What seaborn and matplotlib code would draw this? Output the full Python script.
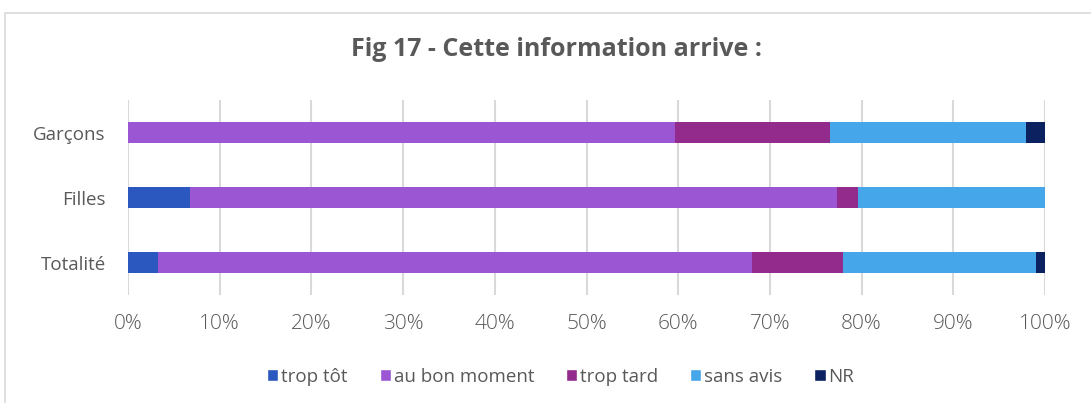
import matplotlib
import numpy as np
import pandas as pd
import seaborn as sns
import matplotlib.pyplot as plt
from matplotlib.patches import Patch, Rectangle

groups = ['Garçons', 'Filles', 'Totalité']
series = ['trop tôt', 'au bon moment', 'trop tard', 'sans avis', 'NR']
trop_tot = [0.0, 6.8, 3.3]
bon_moment = [59.6, 70.5, 64.8]
trop_tard = [17.0, 2.3, 9.9]
sans_avis = [21.3, 20.4, 21.0]
nr = [2.1, 0.0, 1.0]
colors = ['#2A58BE', '#9B57D3', '#922B8C', '#46A6EA', '#0B2160']

def build_data():
    df = pd.DataFrame({'group': groups, 'trop tôt': trop_tot, 'au bon moment': bon_moment,
                       'trop tard': trop_tard, 'sans avis': sans_avis, 'NR': nr})
    # cumulative sums so bars can be overdrawn from the longest to the shortest
    df[series] = df[series].cumsum(axis=1)
    return df

def plot_stacked(df):
    fig = plt.figure(figsize=(10.91, 4.03), dpi=100)
    fig.patches.append(Rectangle((5 / 1091, -0.1), 1.2, (403 - 13) / 403 + 0.1,
                                 transform=fig.transFigure, fill=False,
                                 edgecolor='#d9d9d9', linewidth=1.2))
    ax = fig.add_axes([128 / 1091, 108 / 403, 917 / 1091, 195 / 403])
    for name, color in reversed(list(zip(series, colors))):
        sns.barplot(data=df, y='group', x=name, orient='h', color=color,
                    width=0.33, ax=ax, saturation=1, linewidth=0)
    ax.set_xlim(0, 100)
    ax.set_ylim(2.5, -0.5)
    ax.set_xticks(np.arange(0, 101, 10))
    ax.set_xticklabels([f'{v}%' for v in range(0, 101, 10)], fontweight='light')
    ax.grid(axis='x', color='#d9d9d9', linewidth=1.5)
    ax.set_axisbelow(True)
    for s in ax.spines.values():
        s.set_visible(False)
    ax.tick_params(axis='both', length=0, colors='#595959')
    ax.tick_params(axis='x', labelsize=15, pad=14)
    ax.tick_params(axis='y', labelsize=13.5, pad=16)
    ax.set_xlabel('')
    ax.set_ylabel('')
    fig.text(0.51, 1 - 50 / 403, 'Fig 17 - Cette information arrive :', ha='center', va='center',
             fontsize=18, fontweight='bold', color='#595959')
    handles = [Patch(facecolor=c, label=n) for n, c in zip(series, colors)]
    fig.legend(handles=handles, loc='center', bbox_to_anchor=(0.514, 1 - 377 / 403), ncol=5,
               frameon=False, fontsize=13.5, handlelength=0.6, handleheight=0.6,
               handletextpad=0.15, columnspacing=1.7, labelcolor='#595959')
    fig.savefig('out.png', dpi=100)

if __name__ == '__main__':
    sns.set_style('white')
    plt.rcParams['font.family'] = ['Open Sans', 'DejaVu Sans']
    plot_stacked(build_data())
